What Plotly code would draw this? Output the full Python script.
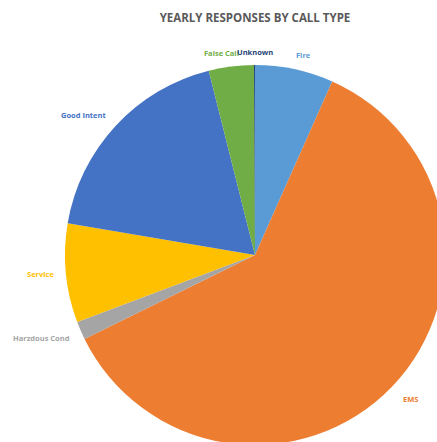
import plotly.graph_objects as go

labels = ["Fire", "EMS", "Harzdous Cond", "Service", "Good Intent", "False Call", "Unknown"]
values = [160, 1466, 37, 202, 442, 92, 2]
colors = ["#5B9BD5", "#ED7D31", "#A5A5A5", "#FFC000", "#4472C4", "#70AD47", "#264478"]

W, H = 453, 450
cx, cy, r = 255, 255, 190

# label placement (pixels from top-left), styling only
label_pos = {
    "Fire": (303, 55), "EMS": (410, 399), "Harzdous Cond": (41, 338),
    "Service": (40, 274), "Good Intent": (83, 115), "False Call": (221, 53),
    "Unknown": (255, 52),
}

fig = go.Figure(go.Pie(
    labels=labels, values=values, sort=False, direction="clockwise", rotation=0,
    marker=dict(colors=colors, line=dict(width=0)),
    textinfo="none",
    showlegend=False, hoverinfo="label+value+percent",
    domain=dict(x=[(cx - r) / W, (cx + r) / W], y=[1 - (cy + r) / H, 1 - (cy - r) / H]),
))

for lab, col in zip(labels, colors):
    px, py = label_pos[lab]
    fig.add_annotation(
        text=f"<b>{lab}</b>", x=px / W, y=1 - py / H, xref="paper", yref="paper",
        xanchor="center", yanchor="middle", showarrow=False,
        font=dict(family="Open Sans", size=7.5, color=col),
    )

fig.update_layout(
    width=W, height=H,
    margin=dict(l=0, r=0, t=0, b=0),
    paper_bgcolor="white", plot_bgcolor="white",
    title=dict(text="<b>YEARLY RESPONSES BY CALL TYPE</b>", xref="container", yref="container",
               x=cx / W, xanchor="center", y=1 - 18 / H, yanchor="middle",
               font=dict(family="Open Sans", size=11.5, color="#595959")),
)

fig.write_html("out.html", config={"displayModeBar": False},
               post_script="document.body.style.margin='0';document.body.style.overflow='hidden';")
